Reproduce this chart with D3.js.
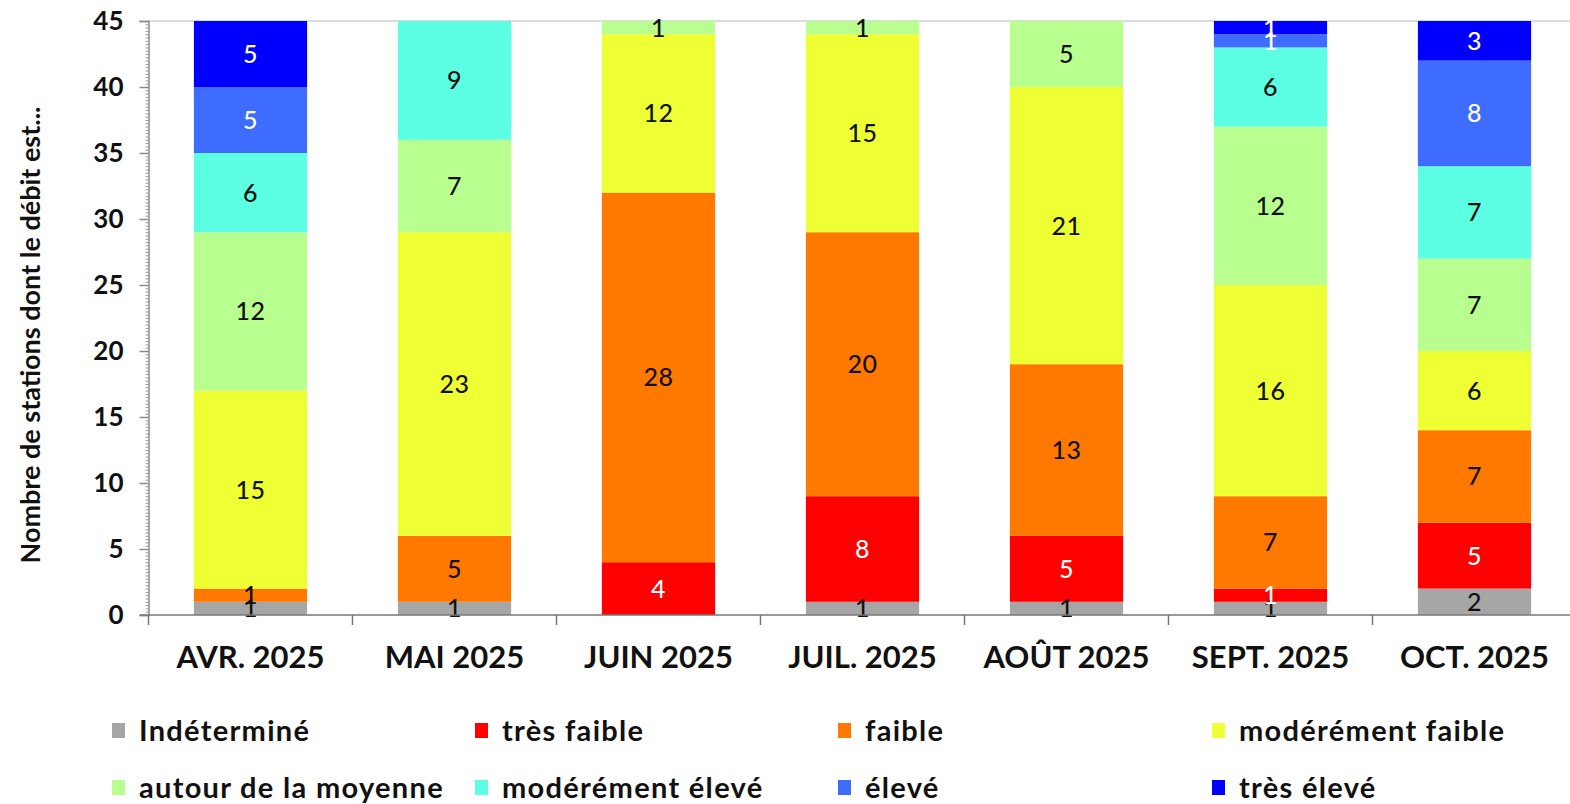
<!DOCTYPE html>
<html>
<head>
<meta charset="utf-8">
<script src="https://cdn.jsdelivr.net/npm/d3@7"></script>
<style>
  html, body { margin: 0; padding: 0; background: #fff; }
  svg { display: block; font-family: Lato, "Open Sans", sans-serif; }
</style>
</head>
<body>
<svg id="chart" width="1570" height="804"></svg>
<script>
// Months shown on the x axis
const months = ["AVR. 2025", "MAI 2025", "JUIN 2025", "JUIL. 2025", "AOÛT 2025", "SEPT. 2025", "OCT. 2025"];

// Flow classes, stacked from bottom to top
const classes = ["Indéterminé", "très faible", "faible", "modérément faible",
                 "autour de la moyenne", "modérément élevé", "élevé", "très élevé"];
const classColors = ["#a6a6a6", "#ff0000", "#ff7800", "#eeff33",
                     "#b9ff8f", "#5cffe1", "#3d6cff", "#0000ff"];
const classLabelColors = ["#111", "#fff", "#111", "#111", "#111", "#111", "#fff", "#fff"];

// Number of stations per class, one array per class (months in order)
const indetermine        = [1, 1, 0, 1, 1, 1, 2];
const tresFaible         = [0, 0, 4, 8, 5, 1, 5];
const faible             = [1, 5, 28, 20, 13, 7, 7];
const moderementFaible   = [15, 23, 12, 15, 21, 16, 6];
const autourMoyenne      = [12, 7, 1, 1, 5, 12, 7];
const moderementEleve    = [6, 9, 0, 0, 0, 6, 7];
const eleve              = [5, 0, 0, 0, 0, 1, 8];
const tresEleve          = [5, 0, 0, 0, 0, 1, 3];

const yTicks = [0, 5, 10, 15, 20, 25, 30, 35, 40, 45];
const yTitle = "Nombre de stations dont le débit est...";

const series = [indetermine, tresFaible, faible, moderementFaible,
                autourMoyenne, moderementEleve, eleve, tresEleve];

const rows = months.map((m, i) => {
  const r = { month: m };
  classes.forEach((c, k) => { r[c] = series[k][i]; });
  return r;
});

const svg = d3.select("#chart");

const x = d3.scaleBand().domain(months).range([148.5, 1576.5]);
const y = d3.scaleLinear().domain([0, 45]).range([615, 21]);
const barW = x.bandwidth() * 0.555;

// top border of the plot area
svg.append("line")
  .attr("x1", 148.5).attr("x2", 1570)
  .attr("y1", y(45)).attr("y2", y(45))
  .attr("stroke", "#d0d0d0").attr("stroke-width", 1.5);

const stacked = d3.stack().keys(classes)(rows);

const layers = svg.append("g").selectAll("g")
  .data(stacked)
  .join("g")
  .attr("fill", (d, k) => classColors[k]);

layers.selectAll("rect")
  .data(d => d.filter(s => s[1] - s[0] > 0))
  .join("rect")
  .attr("x", s => x(s.data.month) + (x.bandwidth() - barW) / 2)
  .attr("width", barW)
  .attr("y", s => y(s[1]))
  .attr("height", s => y(s[0]) - y(s[1]));

// value labels
stacked.forEach((layer, k) => {
  svg.append("g").selectAll("text")
    .data(layer.filter(s => s[1] - s[0] > 0))
    .join("text")
    .attr("x", s => x(s.data.month) + x.bandwidth() / 2)
    .attr("y", s => y((s[0] + s[1]) / 2))
    .attr("dy", "0.36em")
    .attr("text-anchor", "middle")
    .attr("font-size", 25)
    .attr("font-weight", 500)
    .attr("letter-spacing", 0.5)
    .attr("fill", classLabelColors[k])
    .text(s => s[1] - s[0]);
});

// y axis with minor ticks
const yAxisG = svg.append("g").attr("transform", "translate(148.5,0)");
yAxisG.append("g")
  .call(d3.axisLeft(y).tickValues(d3.range(0, 45.01, 0.25)).tickSize(3).tickFormat(""))
  .call(g => g.select(".domain").remove())
  .selectAll("line").attr("stroke", "#9a9a9a");
yAxisG.append("g")
  .call(d3.axisLeft(y).tickValues(yTicks).tickSize(9).tickPadding(16))
  .call(g => g.select(".domain").attr("stroke", "#8a8a8a").attr("stroke-width", 1.5))
  .call(g => g.selectAll("line").attr("stroke", "#8a8a8a").attr("stroke-width", 1.5))
  .call(g => g.selectAll("text")
    .attr("font-size", 26).attr("font-weight", "bold")
    .attr("font-family", "Lato, sans-serif").attr("fill", "#111"));

// x axis
const xAxisG = svg.append("g").attr("transform", `translate(0,${y(0)})`);
xAxisG.append("line")
  .attr("x1", 140).attr("x2", 1570)
  .attr("stroke", "#777").attr("stroke-width", 1.5);
xAxisG.selectAll("line.tick")
  .data(months)
  .join("line")
  .attr("class", "tick")
  .attr("x1", m => x(m)).attr("x2", m => x(m))
  .attr("y1", 0).attr("y2", 10)
  .attr("stroke", "#777").attr("stroke-width", 1.5);
xAxisG.selectAll("text")
  .data(months)
  .join("text")
  .attr("x", m => x(m) + x.bandwidth() / 2)
  .attr("y", 53)
  .attr("text-anchor", "middle")
  .attr("font-size", 31)
  .attr("font-weight", "bold")
  .attr("fill", "#111")
  .text(m => m);

// y axis title
svg.append("text")
  .attr("transform", `translate(40,${y(22.5) + 17}) rotate(-90)`)
  .attr("text-anchor", "middle")
  .attr("font-size", 27)
  .attr("font-weight", "bold")
  .attr("fill", "#111")
  .text(yTitle);

// legend: four columns, two rows
const legendX = [112, 475, 838, 1212];
const legendY = [731, 788];
const legend = svg.append("g").selectAll("g")
  .data(classes)
  .join("g")
  .attr("transform", (c, i) => `translate(${legendX[i % 4]},${legendY[Math.floor(i / 4)]})`);
legend.append("rect")
  .attr("x", 0).attr("y", -8).attr("width", 13).attr("height", 15)
  .attr("fill", (c, i) => classColors[i]);
legend.append("text")
  .attr("x", 27).attr("y", 0).attr("dy", "0.35em")
  .attr("font-size", 29)
  .attr("font-weight", "bold")
  .attr("letter-spacing", 1.3)
  .attr("fill", "#111")
  .text(c => c);
</script>
</body>
</html>
